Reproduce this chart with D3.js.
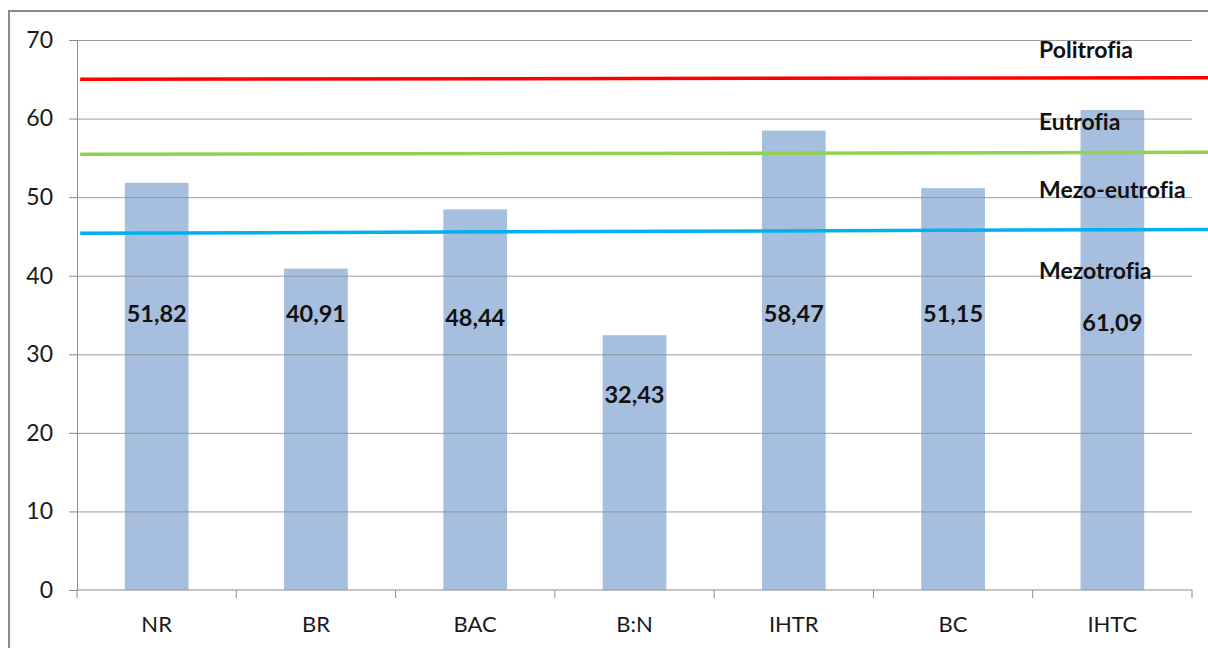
<!DOCTYPE html>
<html>
<head>
<meta charset="utf-8">
<script src="https://cdn.jsdelivr.net/npm/d3@7/dist/d3.min.js"></script>
<style>
  html, body { margin: 0; padding: 0; background: #fff; }
  svg { display: block; font-family: Lato, "Noto Sans", sans-serif; font-variant-ligatures: none; }
</style>
</head>
<body>
<svg id="chart" width="1208" height="648"></svg>
<script>
// Trophic state index per site
const categories = ["NR", "BR", "BAC", "B:N", "IHTR", "BC", "IHTC"];
const values = [51.82, 40.91, 48.44, 32.43, 58.47, 51.15, 61.09];
const valueLabels = ["51,82", "40,91", "48,44", "32,43", "58,47", "51,15", "61,09"];
const yTicks = [0, 10, 20, 30, 40, 50, 60, 70];

// Threshold lines between trophic classes (start value, end value)
const thresholdNames = ["Politrofia", "Eutrofia", "Mezo-eutrofia"];
const thresholdStart = [65.0, 55.45, 45.4];
const thresholdEnd = [65.2, 55.7, 45.9];
const thresholdColors = ["#ff0000", "#92d050", "#00b0f0"];

// Class names written at the right side of the plot
const classNames = ["Politrofia", "Eutrofia", "Mezo-eutrofia", "Mezotrofia"];
const classLevels = [68.7, 59.55, 50.9, 40.6];

const svg = d3.select("#chart");
const margin = { left: 77, right: 16, top: 40, bottom: 58 };
const W = 1208, H = 648;
const plotW = 1192 - margin.left;
const plotH = 590 - margin.top;

// Chart frame
svg.append("path")
  .attr("d", `M9,${H} L9,11 L${W},11`)
  .attr("fill", "none").attr("stroke", "#8c8c8c").attr("stroke-width", 2);

const g = svg.append("g").attr("transform", `translate(${margin.left},${margin.top})`);

const x = d3.scaleBand().domain(categories).range([0, plotW]).padding(0);
const xPos = d3.scaleLinear().domain([0, categories.length]).range([0, plotW]);
const y = d3.scaleLinear().domain([0, 70]).range([plotH, 0]);

const barW = x.bandwidth() * 0.4;

// Bars
g.selectAll("rect.bar").data(values).join("rect")
  .attr("class", "bar")
  .attr("x", (d, i) => x(categories[i]) + x.bandwidth() / 2 - barW / 2)
  .attr("y", d => y(d))
  .attr("width", barW)
  .attr("height", d => y(0) - y(d))
  .attr("fill", "#a7bfde");

// Y axis and horizontal gridlines (drawn over the bars)
const yAxis = d3.axisLeft(y).tickValues(yTicks).tickSize(8).tickPadding(16).tickFormat(d3.format("d"));
const ya = g.append("g").call(yAxis);
ya.select(".domain").attr("stroke", "#8c8c8c");
ya.selectAll(".tick line").attr("stroke", "#8c8c8c");
ya.selectAll(".tick text").attr("font-size", 23).attr("fill", "#1a1a1a").attr("font-family", "Lato, sans-serif");
ya.selectAll(".tick").filter(d => d > 0).append("line")
  .attr("x1", 0).attr("x2", plotW).attr("stroke", "#8c8c8c").attr("stroke-opacity", 0.85).attr("stroke-width", 1);

// X axis with ticks at category boundaries
const xa = g.append("g").attr("transform", `translate(0,${plotH})`);
xa.append("line").attr("x1", 0).attr("x2", plotW).attr("stroke", "#8c8c8c");
xa.selectAll("line.tk").data(d3.range(categories.length + 1)).join("line")
  .attr("class", "tk")
  .attr("x1", d => xPos(d)).attr("x2", d => xPos(d))
  .attr("y1", 0).attr("y2", 8).attr("stroke", "#8c8c8c");
xa.selectAll("text").data(categories).join("text")
  .attr("x", d => x(d) + x.bandwidth() / 2)
  .attr("y", 42)
  .attr("text-anchor", "middle")
  .attr("font-size", 22)
  .attr("fill", "#1a1a1a")
  .text(d => d);

// Threshold lines, extending past the plot to the right edge
const lineX0 = 0.02, lineX1 = 7.15;
const lineGen = d3.line().x(d => xPos(d[0])).y(d => y(d[1]));
thresholdNames.forEach((n, i) => {
  g.append("path")
    .datum([[lineX0, thresholdStart[i]], [lineX1, thresholdEnd[i]]])
    .attr("d", lineGen)
    .attr("fill", "none")
    .attr("stroke", thresholdColors[i])
    .attr("stroke-width", 3.5);
});

// Value labels inside the bars
const labelLevel = (v, i) => {
  if (categories[i] === "B:N") return 24.85;
  if (categories[i] === "IHTC") return 34.0;
  if (categories[i] === "BAC") return 34.7;
  return 35.1;
};
g.selectAll("text.val").data(values).join("text")
  .attr("class", "val")
  .attr("x", (d, i) => x(categories[i]) + x.bandwidth() / 2)
  .attr("y", (d, i) => y(labelLevel(d, i)))
  .attr("dy", "0.35em")
  .attr("text-anchor", "middle")
  .attr("font-size", 23.5)
  .attr("font-weight", "bold")
  .attr("fill", "#111")
  .text((d, i) => valueLabels[i]);

// Class names
g.selectAll("text.cls").data(classNames).join("text")
  .attr("class", "cls")
  .attr("x", 962)
  .attr("y", (d, i) => y(classLevels[i]))
  .attr("dy", "0.35em")
  .attr("font-size", 23)
  .attr("font-weight", "bold")
  .attr("fill", "#111")
  .text(d => d);
</script>
</body>
</html>
